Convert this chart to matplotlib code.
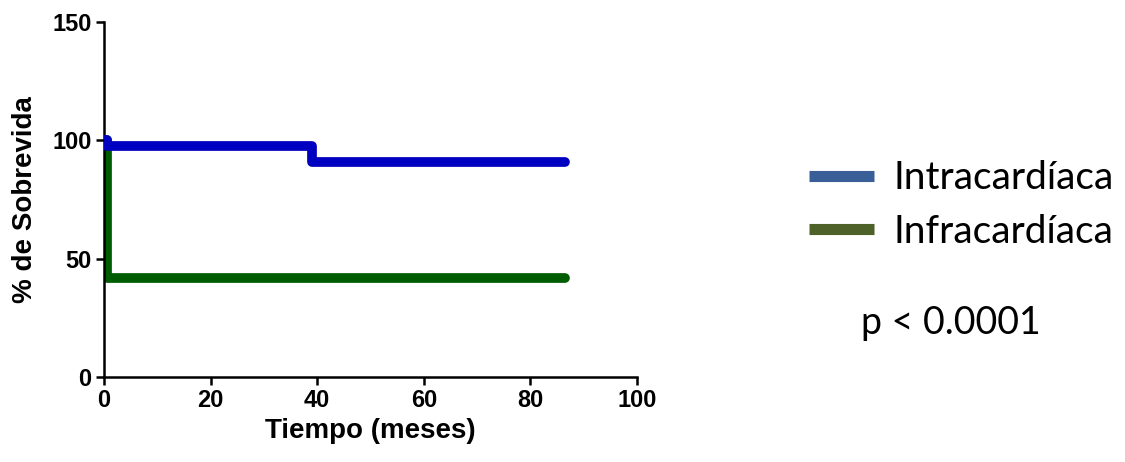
import matplotlib
matplotlib.use("Agg")
import matplotlib.pyplot as plt
from matplotlib.lines import Line2D

# Kaplan-Meier survival steps (time in months, survival in %)
intra_time = [0, 0.5, 39, 86.5]
intra_surv = [100, 97.5, 91, 91]
infra_time = [0, 0.5, 86.5]
infra_surv = [100, 42, 42]

x_ticks = [0, 20, 40, 60, 80, 100]
y_ticks = [0, 50, 100, 150]

legend_labels = ["Intracardíaca", "Infracardíaca"]
p_text = "p < 0.0001"

fig = plt.figure(figsize=(11.25, 4.62), dpi=100)
ax = fig.add_axes([0.0924, 0.184, 0.4738, 0.768])

ax.step(infra_time, infra_surv, where="post", color="#005c00", lw=7,
        solid_capstyle="round", solid_joinstyle="round", zorder=2)
ax.step(intra_time, intra_surv, where="post", color="#0000c0", lw=7,
        solid_capstyle="round", solid_joinstyle="round", zorder=3)

ax.set_xlim(0, 100)
ax.set_ylim(0, 150)
ax.set_xticks(x_ticks)
ax.set_yticks(y_ticks)
for side in ("top", "right"):
    ax.spines[side].set_visible(False)
for side in ("left", "bottom"):
    ax.spines[side].set_linewidth(1.8)
ax.tick_params(direction="out", length=6, width=1.8, pad=3)
for lab in ax.get_xticklabels() + ax.get_yticklabels():
    lab.set_fontfamily("Liberation Sans")
    lab.set_fontweight("bold")
    lab.set_fontsize(17)

ax.set_xlabel("Tiempo (meses)", fontfamily="Liberation Sans", fontweight="bold",
              fontsize=20, labelpad=4)
ax.set_ylabel("% de Sobrevida", fontfamily="Liberation Sans", fontweight="bold",
              fontsize=20, labelpad=10)

handles = [Line2D([], [], color="#3a5f98", lw=8, solid_capstyle="butt"),
           Line2D([], [], color="#4e6128", lw=8, solid_capstyle="butt")]
fig.legend(handles, legend_labels, loc="center left",
           bbox_to_anchor=(0.705, 0.556), frameon=False,
           prop={"family": "Lato", "size": 28}, handlelength=1.67,
           handletextpad=0.5, labelspacing=0.45, borderaxespad=0)

fig.text(0.8455, 0.30, p_text, ha="center", va="center",
         fontfamily="Lato", fontsize=27)

fig.savefig("out.png", dpi=100)
